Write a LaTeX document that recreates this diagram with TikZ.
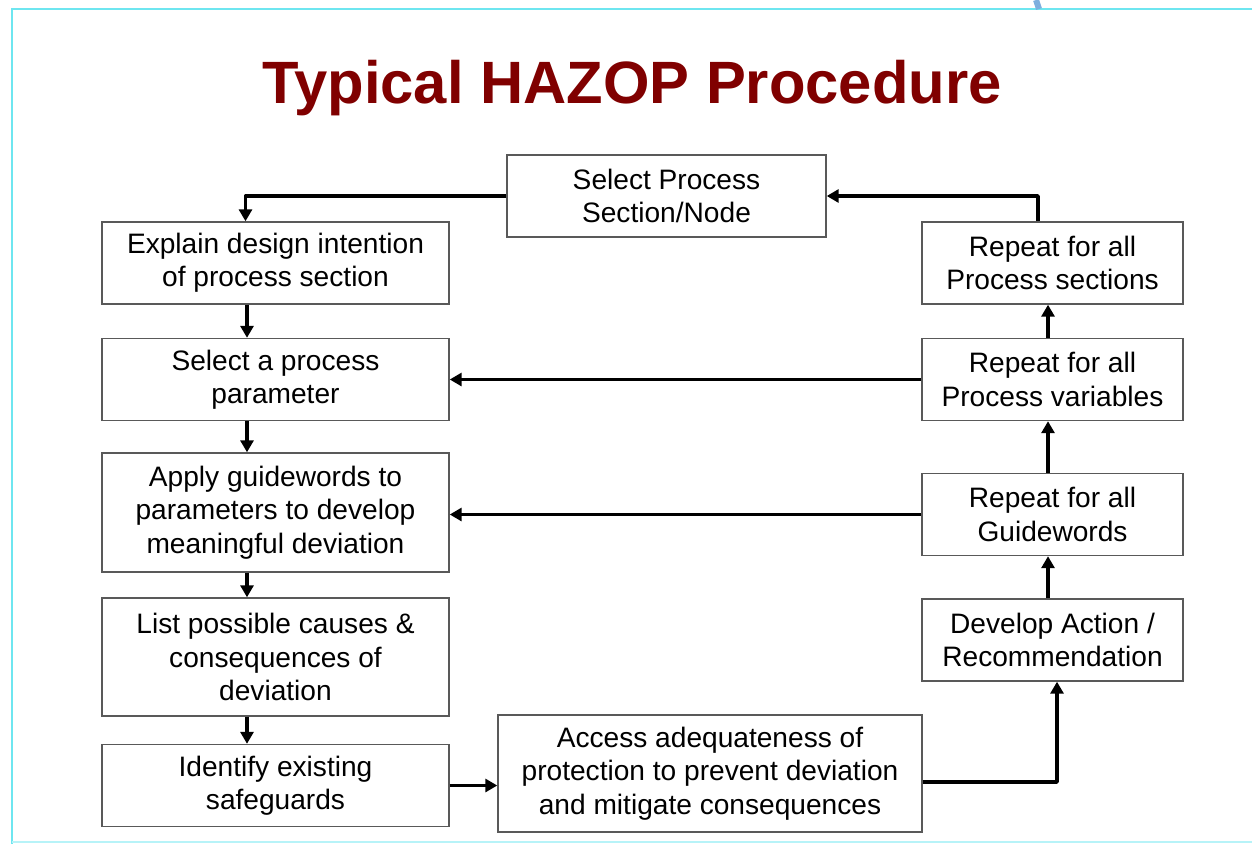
\documentclass[tikz,border=0pt]{standalone}
\usepackage{fontspec}
\setmainfont{Liberation Sans}
\usetikzlibrary{arrows.meta}
\definecolor{hazred}{RGB}{128,0,0}
\definecolor{framecyan}{RGB}{110,230,240}
\definecolor{markblue}{RGB}{125,175,222}

\begin{document}
\begin{tikzpicture}[
  x=0.2mm, y=-0.2mm,
  font=\fontsize{16}{19}\selectfont,
  box/.style={draw=black!65, line width=0.8pt, fill=white, align=center,
              inner sep=0pt, minimum height=16.4mm},
  lbox/.style={box, minimum width=69.4mm},
  rbox/.style={box, minimum width=52.2mm},
  flow/.style={-{Triangle[length=2.4mm, width=2.6mm]}, line width=2pt, line join=round}
]
\useasboundingbox (0,0) rectangle (1252,844);

% ---- page frame
\draw[framecyan, line width=0.6pt] (1252,9) -- (12,9) -- (12,844);
\draw[framecyan!50, line width=0.6pt] (12,842) -- (1252,842);
\draw[markblue, line width=1.2mm] (1036,0) -- (1039,9);

% ---- title
\node[font=\fontsize{34}{40}\selectfont\bfseries, text=hazred, anchor=base] (ttl) at (632,103)
  {Typical HAZOP Procedure};

% ---- top node
\node[box, minimum width=63.8mm] (sel) at (666.5,196) {Select Process\\Section/Node};

% ---- left column: analysis steps
\node[lbox] (expl) at (275.5,263)  {Explain design intention\\of process section};
\node[lbox] (par)  at (275.5,379.5) {Select a process\\parameter};
\node[lbox, minimum height=23.8mm] (app) at (275.5,512.5) {Apply guidewords to\\parameters to develop\\meaningful deviation};
\node[lbox, minimum height=23.6mm] (cau) at (275.5,657) {List possible causes \&\\consequences of\\deviation};
\node[lbox] (idf)  at (275.5,785.5) {Identify existing\\safeguards};

% ---- bottom middle
\node[box, minimum width=84.8mm, minimum height=23.4mm] (acc) at (710,773.5)
  {Access adequateness of\\protection to prevent deviation\\and mitigate consequences};

% ---- right column: repeat loops
\node[rbox] (dev) at (1052.5,640)   {Develop Action /\\Recommendation};
\node[rbox] (gw)  at (1052.5,514.5) {Repeat for all\\Guidewords};
\node[rbox] (var) at (1052.5,379.5) {Repeat for all\\Process variables};
\node[rbox] (sec) at (1052.5,263)   {Repeat for all\\Process sections};

% ---- arrows down the left side
\draw[flow] (sel.west) -| ([xshift=-6mm]expl.north);
\draw[flow] ([xshift=-5.7mm]expl.south) -- ([xshift=-5.7mm]par.north);
\draw[flow] ([xshift=-5.7mm]par.south) -- ([xshift=-5.7mm]app.north);
\draw[flow] ([xshift=-5.7mm]app.south) -- ([xshift=-5.7mm]cau.north);
\draw[flow] ([xshift=-5.7mm]cau.south) -- ([xshift=-5.7mm]idf.north);

% ---- along the bottom and up the right side
\draw[flow] (idf.east) -- (idf.east -| acc.west);
\draw[flow] ([yshift=-1.7mm]acc.east) -| ([xshift=0.9mm]dev.south);
\draw[flow] ([xshift=-0.9mm]dev.north) -- ([xshift=-0.9mm]gw.south);
\draw[flow] ([xshift=-0.9mm]gw.north) -- ([xshift=-0.9mm]var.south);
\draw[flow] ([xshift=-0.9mm]var.north) -- ([xshift=-0.9mm]sec.south);
\draw[flow] ([xshift=-2.9mm]sec.north) |- (sel.east);

% ---- loop-back arrows
\draw[flow] (gw.west) -- (gw.west -| app.east);
\draw[flow] (var.west) -- (var.west -| par.east);
\end{tikzpicture}
\end{document}
